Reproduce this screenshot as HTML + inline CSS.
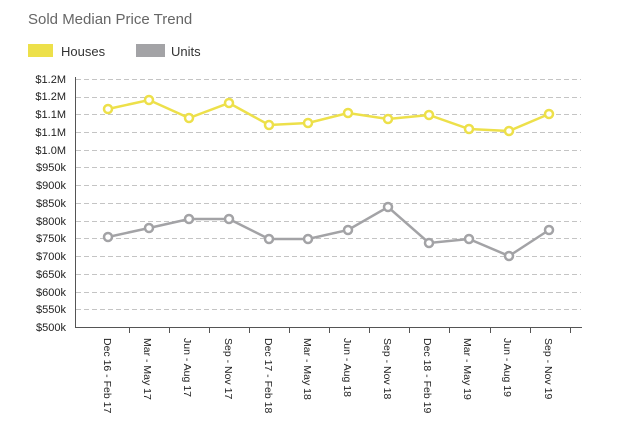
<!DOCTYPE html>
<html><head><meta charset="utf-8"><style>
html,body{margin:0;padding:0;background:#fff;width:620px;height:433px;overflow:hidden}
</style></head><body>
<svg width="620" height="433" xmlns="http://www.w3.org/2000/svg" font-family="Liberation Sans, sans-serif">
<text x="28" y="24" font-size="15" fill="#666">Sold Median Price Trend</text>
<rect x="28" y="44" width="25" height="13" fill="#ede04a"/>
<text x="61" y="56" font-size="13" fill="#333">Houses</text>
<rect x="136" y="44" width="29" height="13" fill="#a3a3a6"/>
<text x="171" y="56" font-size="13" fill="#333">Units</text>
<g stroke="#c4c4c4" stroke-dasharray="5,3" stroke-width="1">
<line x1="76" x2="581" y1="79.5" y2="79.5"/><line x1="76" x2="581" y1="97.5" y2="97.5"/><line x1="76" x2="581" y1="114.5" y2="114.5"/><line x1="76" x2="581" y1="132.5" y2="132.5"/><line x1="76" x2="581" y1="150.5" y2="150.5"/><line x1="76" x2="581" y1="167.5" y2="167.5"/><line x1="76" x2="581" y1="185.5" y2="185.5"/><line x1="76" x2="581" y1="203.5" y2="203.5"/><line x1="76" x2="581" y1="221.5" y2="221.5"/><line x1="76" x2="581" y1="238.5" y2="238.5"/><line x1="76" x2="581" y1="256.5" y2="256.5"/><line x1="76" x2="581" y1="274.5" y2="274.5"/><line x1="76" x2="581" y1="292.5" y2="292.5"/><line x1="76" x2="581" y1="309.5" y2="309.5"/>
</g>
<g stroke="#555" stroke-width="1">
<line x1="75.5" y1="77" x2="75.5" y2="327"/><line x1="75" y1="327.5" x2="582" y2="327.5"/>
<line x1="129.5" x2="129.5" y1="327" y2="333"/><line x1="169.5" x2="169.5" y1="327" y2="333"/><line x1="209.5" x2="209.5" y1="327" y2="333"/><line x1="249.5" x2="249.5" y1="327" y2="333"/><line x1="289.5" x2="289.5" y1="327" y2="333"/><line x1="329.5" x2="329.5" y1="327" y2="333"/><line x1="369.5" x2="369.5" y1="327" y2="333"/><line x1="409.5" x2="409.5" y1="327" y2="333"/><line x1="449.5" x2="449.5" y1="327" y2="333"/><line x1="490.5" x2="490.5" y1="327" y2="333"/><line x1="530.5" x2="530.5" y1="327" y2="333"/><line x1="570.5" x2="570.5" y1="327" y2="333"/>
</g>
<g font-size="11" fill="#222" text-anchor="end">
<text x="66" y="83">$1.2M</text><text x="66" y="100">$1.2M</text><text x="66" y="118">$1.1M</text><text x="66" y="136">$1.1M</text><text x="66" y="154">$1.0M</text><text x="66" y="171">$950k</text><text x="66" y="189">$900k</text><text x="66" y="207">$850k</text><text x="66" y="225">$800k</text><text x="66" y="242">$750k</text><text x="66" y="260">$700k</text><text x="66" y="278">$650k</text><text x="66" y="296">$600k</text><text x="66" y="313">$550k</text><text x="66" y="331">$500k</text>
</g>
<g font-size="10.5" fill="#222">
<text transform="translate(104,338) rotate(90)">Dec 16 - Feb 17</text>
<text transform="translate(144,338) rotate(90)">Mar - May 17</text>
<text transform="translate(184,338) rotate(90)">Jun - Aug 17</text>
<text transform="translate(225,338) rotate(90)">Sep - Nov 17</text>
<text transform="translate(265,338) rotate(90)">Dec 17 - Feb 18</text>
<text transform="translate(304,338) rotate(90)">Mar - May 18</text>
<text transform="translate(344,338) rotate(90)">Jun - Aug 18</text>
<text transform="translate(384,338) rotate(90)">Sep - Nov 18</text>
<text transform="translate(424,338) rotate(90)">Dec 18 - Feb 19</text>
<text transform="translate(464,338) rotate(90)">Mar - May 19</text>
<text transform="translate(504,338) rotate(90)">Jun - Aug 19</text>
<text transform="translate(545,338) rotate(90)">Sep - Nov 19</text>
</g>
<g fill="none" stroke-width="2.5">
<polyline stroke="#ede04a" points="108,109 149,100 189,118 229,103 269,125 308,123 348,113 388,119 429,115 469,129 509,131 549,114"/>
<polyline stroke="#a3a3a6" points="108,237 149,228 189,219 229,219 269,239 308,239 348,230 388,207 429,243 469,239 509,256 549,230"/>
</g>
<g fill="#fff" stroke-width="2.5" stroke="#ede04a">
<circle cx="108" cy="109" r="4"/><circle cx="149" cy="100" r="4"/><circle cx="189" cy="118" r="4"/><circle cx="229" cy="103" r="4"/><circle cx="269" cy="125" r="4"/><circle cx="308" cy="123" r="4"/><circle cx="348" cy="113" r="4"/><circle cx="388" cy="119" r="4"/><circle cx="429" cy="115" r="4"/><circle cx="469" cy="129" r="4"/><circle cx="509" cy="131" r="4"/><circle cx="549" cy="114" r="4"/>
</g>
<g fill="#fff" stroke-width="2.5" stroke="#a3a3a6">
<circle cx="108" cy="237" r="4"/><circle cx="149" cy="228" r="4"/><circle cx="189" cy="219" r="4"/><circle cx="229" cy="219" r="4"/><circle cx="269" cy="239" r="4"/><circle cx="308" cy="239" r="4"/><circle cx="348" cy="230" r="4"/><circle cx="388" cy="207" r="4"/><circle cx="429" cy="243" r="4"/><circle cx="469" cy="239" r="4"/><circle cx="509" cy="256" r="4"/><circle cx="549" cy="230" r="4"/>
</g>
</svg>
</body></html>
